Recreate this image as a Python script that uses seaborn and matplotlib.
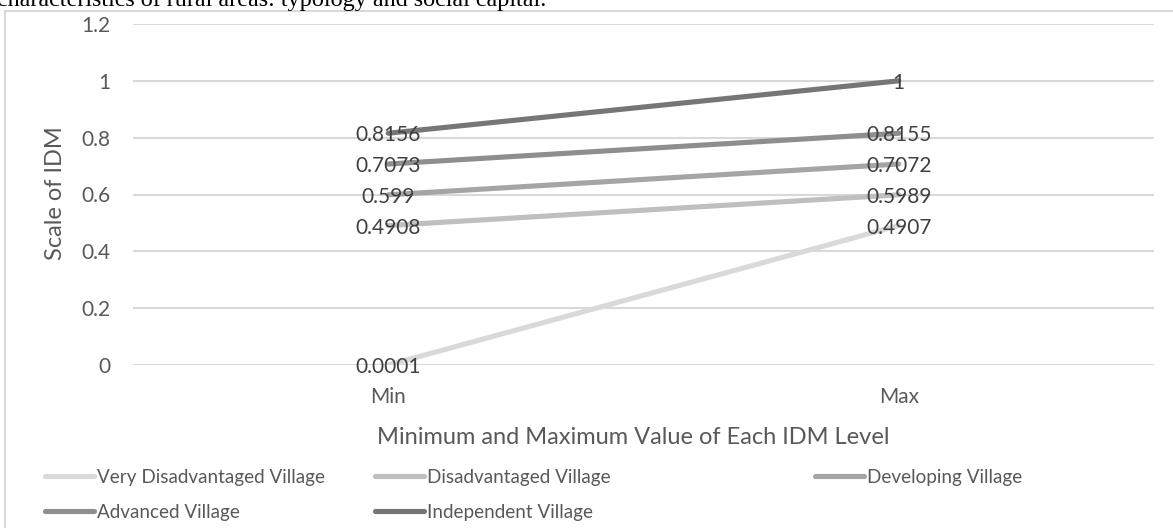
import matplotlib
matplotlib.use("Agg")
import matplotlib.pyplot as plt
from matplotlib.patches import Rectangle
from matplotlib.lines import Line2D
import pandas as pd
import seaborn as sns

# IDM level bounds per village category
levels = ["Min", "Max"]
villages = [
    "Very Disadvantaged Village",
    "Disadvantaged Village",
    "Developing Village",
    "Advanced Village",
    "Independent Village",
]
min_values = [0.0001, 0.4908, 0.599, 0.7073, 0.8156]
max_values = [0.4907, 0.5989, 0.7072, 0.8155, 1.0]
y_ticks = [0, 0.2, 0.4, 0.6, 0.8, 1.0, 1.2]
y_tick_labels = ["0", "0.2", "0.4", "0.6", "0.8", "1", "1.2"]
line_colors = ["#d9d9d9", "#bfbfbf", "#a5a5a5", "#8e8e8e", "#767676"]

records = []
for name, lo, hi in zip(villages, min_values, max_values):
    records.append({"Level": levels[0], "Village": name, "IDM": lo})
    records.append({"Level": levels[1], "Village": name, "IDM": hi})
df = pd.DataFrame(records)

sns.set_theme(style="white")
plt.rcParams["font.family"] = ["Lato", "DejaVu Sans"]

W, H = 1173, 528
fig = plt.figure(figsize=(W / 100, H / 100), dpi=100)


def fx(px):
    return px / W


def fy(py):
    return 1 - py / H


ax = fig.add_axes([fx(133), fy(365), fx(1154) - fx(133), fy(24) - fy(365)])

sns.lineplot(
    data=df, x="Level", y="IDM", hue="Village", hue_order=villages,
    palette=line_colors, linewidth=3.7, ax=ax, legend=False,
    solid_capstyle="round", sort=False,
)

ax.set_xlim(-0.5, 1.5)
ax.set_ylim(0, 1.2)
ax.set_yticks(y_ticks)
ax.set_yticklabels(y_tick_labels)
ax.set_xticks([0, 1])
ax.set_xticklabels(levels)
ax.yaxis.grid(True, color="#d9d9d9", linewidth=1.5)
ax.set_axisbelow(True)
for s in ax.spines.values():
    s.set_visible(False)
ax.tick_params(axis="y", length=0, pad=16, labelsize=15, labelcolor="#595959")
ax.tick_params(axis="x", length=0, pad=16, labelsize=15, labelcolor="#595959")
ax.set_xlabel("")
ax.set_ylabel("")
fig.text(fx(55), fy(193), "Scale of IDM", rotation=90, ha="center", va="center",
         fontsize=17, color="#595959")

# value labels centred on each end point
for lo, hi in zip(min_values, max_values):
    for xpos, v in ((0, lo), (1, hi)):
        ax.annotate(f"{v:g}", (xpos, v), xytext=(0, -1.5), textcoords="offset points",
                    ha="center", va="center", fontsize=15, color="#404040", zorder=5)

fig.text(fx(633), fy(438), "Minimum and Maximum Value of Each IDM Level",
         ha="center", va="center", fontsize=17, color="#595959")

# legend laid out in three columns
handles = [Line2D([0], [0], color=c, linewidth=3.7, solid_capstyle="round")
           for c in line_colors]
columns = [([0, 3], 45), ([1, 4], 375), ([2], 815)]
for idx, left in columns:
    fig.legend([handles[i] for i in idx], [villages[i] for i in idx],
               loc="upper left", bbox_to_anchor=(fx(left), fy(469)),
               frameon=False, fontsize=13.6, labelcolor="#595959",
               borderpad=0, borderaxespad=0, handlelength=2.6,
               handletextpad=0.15, labelspacing=0.93)

# chart frame and the running text above it
fig.patches.append(Rectangle((fx(5), fy(H + 20)), 1.2, fy(11) - fy(H + 20),
                             transform=fig.transFigure, fill=False,
                             edgecolor="#d9d9d9", linewidth=1.5))
fig.text(fx(-3), fy(6), "characteristics of rural areas: typology and social capital.",
         ha="left", va="baseline", fontsize=17.4, color="#000000",
         family=["Liberation Serif", "DejaVu Serif"])

fig.savefig("out.png", dpi=100)
